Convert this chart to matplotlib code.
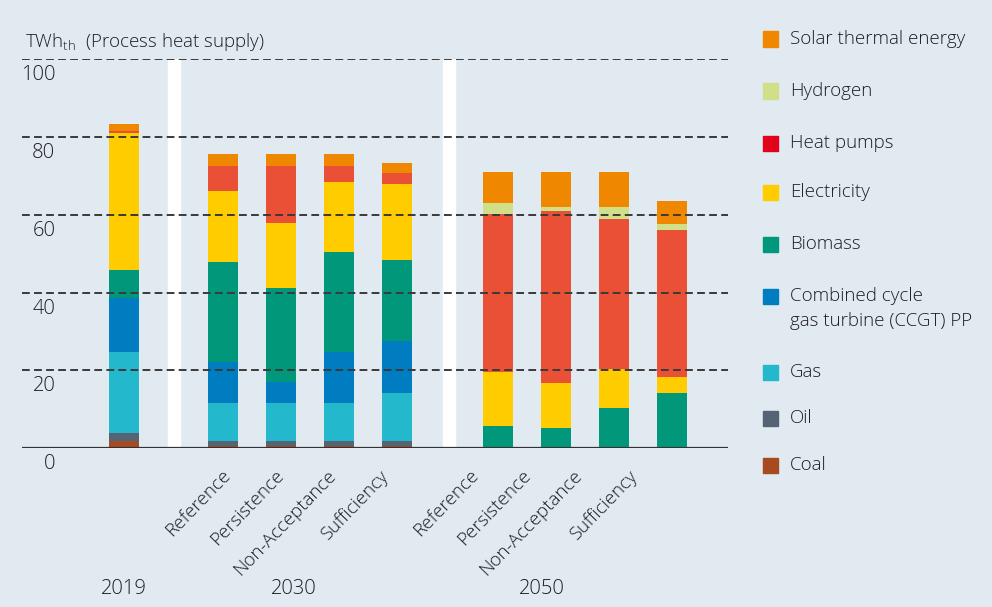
import numpy as np
import matplotlib
matplotlib.use("Agg")
import matplotlib.pyplot as plt
from matplotlib.patches import Rectangle

plt.rcParams['font.family'] = ['Open Sans', 'DejaVu Sans']
plt.rcParams['font.weight'] = 'light'

# bar layout: 2019 | four 2030 scenarios | four 2050 scenarios
positions = [0, 1.71, 2.71, 3.71, 4.71, 6.45, 7.45, 8.45, 9.45]
scenarios = ['Reference', 'Persistence', 'Non-Acceptance', 'Sufficiency',
             'Reference', 'Persistence', 'Non-Acceptance', 'Sufficiency']
scenario_x = [1.68, 2.60, 3.49, 4.41, 5.95, 6.86, 7.74, 8.69]
years = ['2019', '2030', '2050']
year_x = [0, 2.93, 7.2]
separators = [0.86, 5.6]

# TWh_th per carrier, bottom to top of each stack
coal = [1.9, 0.6, 0.6, 0.6, 0.6, 0, 0, 0, 0]
oil = [2.1, 1.3, 1.3, 1.3, 1.3, 0, 0, 0, 0]
gas = [20.8, 9.7, 9.7, 9.7, 12.3, 0, 0, 0, 0]
ccgt = [13.8, 10.6, 5.5, 13.1, 13.3, 0, 0, 0, 0]
biomass = [7.1, 25.6, 24.0, 25.6, 20.8, 5.7, 5.2, 10.3, 14.2]
electricity = [35.4, 18.2, 16.9, 18.2, 19.7, 13.9, 11.6, 10.0, 4.1]
heat_pumps = [0.5, 6.6, 14.6, 4.1, 2.6, 40.5, 44.1, 38.5, 37.9]
hydrogen = [0, 0, 0, 0, 0, 2.8, 1.2, 3.3, 1.3]
solar = [1.6, 2.9, 2.9, 2.9, 2.8, 8.0, 8.8, 8.8, 5.9]

series = [coal, oil, gas, ccgt, biomass, electricity, heat_pumps, hydrogen, solar]
bar_colors = ['#a84a1f', '#546474', '#24b8cc', '#007cc1', '#00977a',
              '#ffcc00', '#ea5035', '#d0df88', '#f08700']

legend_labels = ['Solar thermal energy', 'Hydrogen', 'Heat pumps', 'Electricity',
                 'Biomass', 'Combined cycle\ngas turbine (CCGT) PP', 'Gas', 'Oil', 'Coal']
legend_colors = ['#f08700', '#d0df88', '#e3001b', '#ffcc00', '#00977a',
                 '#007cc1', '#24b8cc', '#546474', '#a84a1f']
legend_y = [39, 91, 143, 192, 244, 296, 372, 418, 465]

bg = '#e1e9f1'
txt = '#1e1e1e'
W, H = 992, 607

fig = plt.figure(figsize=(W / 100, H / 100), dpi=100, facecolor=bg)
ax = fig.add_axes([22 / W, 1 - 448.3 / H, 706 / W, 389.3 / H])
ax.set_facecolor(bg)
ax.set_xlim(-1.76, 10.41)
ax.set_ylim(0, 100)

for s in separators:
    ax.axvspan(s - 0.1, s + 0.1, ymin=0, ymax=1, color='white', zorder=1)

bottom = np.zeros(len(positions))
for vals, c in zip(series, bar_colors):
    ax.bar(positions, vals, width=0.52, bottom=bottom, color=c, zorder=2)
    bottom += np.array(vals)

for yv in [20, 40, 60, 80, 100]:
    ax.axhline(yv, color='#3a3a3a', lw=1.4, ls=(0, (4, 2.2)), zorder=3)
ax.axhline(0, color='#333333', lw=1.6, zorder=4)

for sp in ax.spines.values():
    sp.set_visible(False)
ax.set_xticks([])
ax.set_yticks([])

# y values sit just below their grid line
for yv in [0, 20, 40, 60, 80, 100]:
    ax.annotate(str(yv), xy=(0, yv), xycoords=('axes fraction', 'data'),
                xytext=(24, -11.5), textcoords='offset points',
                ha='right', va='center', fontsize=14.5, color=txt)

for x, lab in zip(scenario_x, scenarios):
    ax.annotate(lab, xy=(x, 0), xycoords='data', xytext=(0, -13),
                textcoords='offset points', rotation=46,
                rotation_mode='anchor', ha='right', va='top',
                fontsize=13.5, color=txt)

for x, lab in zip(year_x, years):
    ax.annotate(lab, xy=(x, 0), xycoords='data', xytext=(0, -101.5),
                textcoords='offset points', ha='center', va='center',
                fontsize=14.5, color=txt)

fig.text(25 / W, 1 - 42 / H, 'TWh$_{\\mathregular{th}}$  (Process heat supply)',
         ha='left', va='center', fontsize=13.5, color=txt)

for lab, c, y in zip(legend_labels, legend_colors, legend_y):
    fig.patches.append(Rectangle((763 / W, 1 - (y + 7.5) / H), 15 / W, 15 / H,
                                 transform=fig.transFigure, color=c))
    for i, line in enumerate(lab.split('\n')):
        fig.text(790 / W, 1 - (y + 25 * i) / H, line, ha='left', va='center',
                 fontsize=13.5, color=txt)

fig.savefig('out.png', dpi=100, facecolor=bg)
